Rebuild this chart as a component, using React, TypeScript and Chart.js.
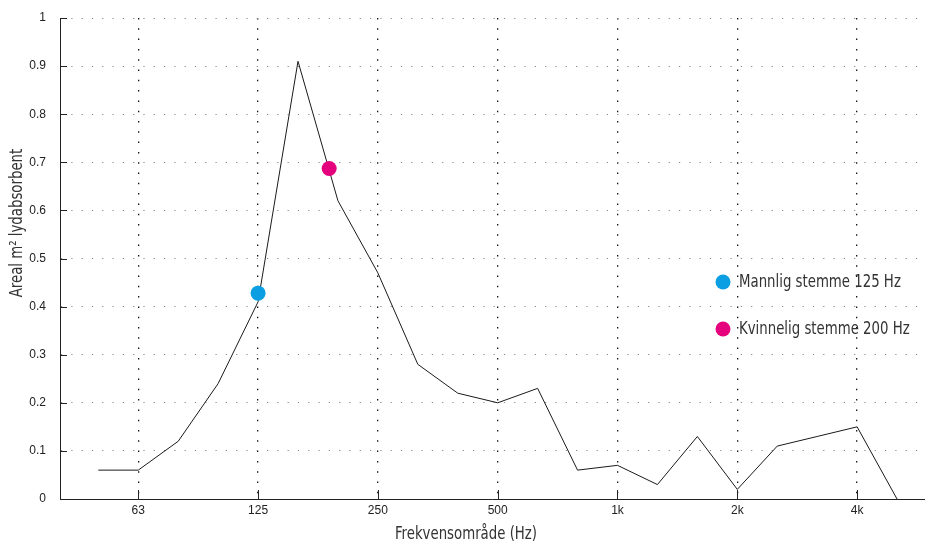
import React, { useEffect, useRef } from 'react';
import { Chart, registerables } from 'chart.js';

Chart.register(...registerables);

// Third-octave band centre frequencies (x positions are band indices)
const bandLabels = ['50', '63', '80', '100', '125', '160', '200', '250', '315', '400', '500', '630', '800', '1k', '1.25k', '1.6k', '2k', '2.5k', '3.15k', '4k', '5k'];
// Absorption area, m², per band
const absorption = [0.06, 0.06, 0.12, 0.24, 0.41, 0.91, 0.62, 0.47, 0.28, 0.22, 0.2, 0.23, 0.06, 0.07, 0.03, 0.13, 0.02, 0.11, 0.13, 0.15, 0.0];
// Labelled x ticks
const tickBands = ['63', '125', '250', '500', '1k', '2k', '4k'];
// y ticks
const yTicks = [0, 0.1, 0.2, 0.3, 0.4, 0.5, 0.6, 0.7, 0.8, 0.9, 1];
// Voice markers: [band index, value]
const maleVoice = [4, 0.428];
const femaleVoice = [5.78, 0.687];
const markerLabels = ['Mannlig stemme 125 Hz', 'Kvinnelig stemme 200 Hz'];
const markerColors = ['#0a9fe2', '#e5007d'];

const condensed = '"Liberation Sans Narrow", "DejaVu Sans Condensed", "Roboto Condensed", sans-serif';
const tickFont = '"Liberation Sans", Arial, Helvetica, sans-serif';

function narrowText(ctx: CanvasRenderingContext2D, text: string, x: number, y: number, align: CanvasTextAlign) {
  ctx.save();
  ctx.translate(x, y);
  ctx.scale(0.87, 1);
  ctx.textAlign = align;
  ctx.textBaseline = 'middle';
  ctx.fillText(text, 0, 0);
  ctx.restore();
}

const decorPlugin = {
  id: 'decor',
  afterDraw(chart: any) {
    const ctx = chart.ctx as CanvasRenderingContext2D;
    const area = chart.chartArea;
    const xs = chart.scales.x;
    const ys = chart.scales.y;
    ctx.save();
    // inward tick marks
    ctx.strokeStyle = '#222';
    ctx.lineWidth = 1;
    ctx.beginPath();
    xs.ticks.forEach((t: any) => {
      const px = Math.round(xs.getPixelForValue(t.value)) + 0.5;
      ctx.moveTo(px, area.bottom);
      ctx.lineTo(px, area.bottom - 9);
    });
    ys.ticks.forEach((t: any) => {
      const py = Math.round(ys.getPixelForValue(t.value)) + 0.5;
      ctx.moveTo(area.left, py);
      ctx.lineTo(area.left + 7, py);
    });
    ctx.stroke();

    // axis titles
    ctx.fillStyle = '#333';
    ctx.font = `17px ${condensed}`;
    narrowText(ctx, xs.options.title.text, 466, 535, 'center');
    ctx.save();
    ctx.translate(18, 223);
    ctx.rotate(-Math.PI / 2);
    narrowText(ctx, ys.options.title.text, 0, 0, 'center');
    ctx.restore();

    // legend
    const markers = chart.data.datasets.filter((d: any) => d.isMarker);
    markers.forEach((d: any, i: number) => {
      const cy = 282 + i * 47;
      ctx.fillStyle = d.backgroundColor;
      ctx.beginPath();
      ctx.arc(723, cy, 7.5, 0, Math.PI * 2);
      ctx.fill();
      ctx.fillStyle = '#333';
      ctx.font = `17px ${condensed}`;
      narrowText(ctx, d.label, 739, cy + 1, 'left');
    });
    ctx.restore();
  },
};

export default function App() {
  const ref = useRef<HTMLCanvasElement | null>(null);

  useEffect(() => {
    document.body.style.margin = '0';
    if (!ref.current) return;
    const chart = new Chart(ref.current, {
      type: 'line',
      data: {
        datasets: [
          {
            type: 'scatter',
            label: markerLabels[0],
            isMarker: true,
            data: [{ x: maleVoice[0], y: maleVoice[1] }],
            backgroundColor: markerColors[0],
            borderWidth: 0,
            pointRadius: 7.5,
            order: 0,
          } as any,
          {
            type: 'scatter',
            label: markerLabels[1],
            isMarker: true,
            data: [{ x: femaleVoice[0], y: femaleVoice[1] }],
            backgroundColor: markerColors[1],
            borderWidth: 0,
            pointRadius: 7.5,
            order: 1,
          } as any,
          {
            type: 'line',
            label: 'Absorpsjon',
            data: absorption.map((v, i) => ({ x: i, y: v })),
            borderColor: '#1a1a1a',
            borderWidth: 1,
            pointRadius: 0,
            tension: 0,
            fill: false,
            order: 2,
          },
        ],
      },
      options: {
        animation: false,
        responsive: true,
        maintainAspectRatio: false,
        layout: { autoPadding: false, padding: { top: 18, right: 0, left: 0, bottom: 0 } },
        plugins: {
          legend: { display: false },
          tooltip: { enabled: false },
        },
        scales: {
          x: {
            type: 'linear',
            min: -0.96,
            max: 20.7,
            title: { display: false, text: 'Frekvensområde (Hz)' },
            afterBuildTicks: (scale: any) => {
              scale.ticks = tickBands.map((b) => ({ value: bandLabels.indexOf(b) }));
            },
            afterFit: (scale: any) => {
              scale.height = 45;
              scale.paddingLeft = 0;
              scale.paddingRight = 0;
            },
            ticks: {
              autoSkip: false,
              maxRotation: 0,
              padding: 4,
              color: '#222',
              font: { family: tickFont, size: 12 },
              callback: (v: any) => bandLabels[Math.round(v)],
            },
            grid: {
              drawTicks: false,
              color: '#111',
              lineWidth: 1.3,
            },
            border: { display: true, color: '#222', width: 1, dash: [1.5, 8.8] },
          },
          y: {
            type: 'linear',
            min: 0,
            max: 1,
            title: { display: false, text: 'Areal m² lydabsorbent' },
            afterBuildTicks: (scale: any) => {
              scale.ticks = yTicks.map((v) => ({ value: v }));
            },
            afterFit: (scale: any) => {
              scale.width = 60;
              scale.paddingTop = 0;
              scale.paddingBottom = 0;
            },
            ticks: {
              padding: 14,
              color: '#222',
              font: { family: tickFont, size: 12 },
              callback: (v: any) => String(Math.round(v * 10) / 10),
            },
            grid: {
              drawTicks: false,
              color: '#888',
              lineWidth: 1,
            },
            border: { display: true, color: '#222', width: 1, dash: [1.2, 9.1] },
          },
        },
      },
      plugins: [decorPlugin],
    } as any);
    return () => chart.destroy();
  }, []);

  return (
    <div style={{ width: 925, height: 544, position: 'relative' }}>
      <canvas ref={ref} />
    </div>
  );
}
